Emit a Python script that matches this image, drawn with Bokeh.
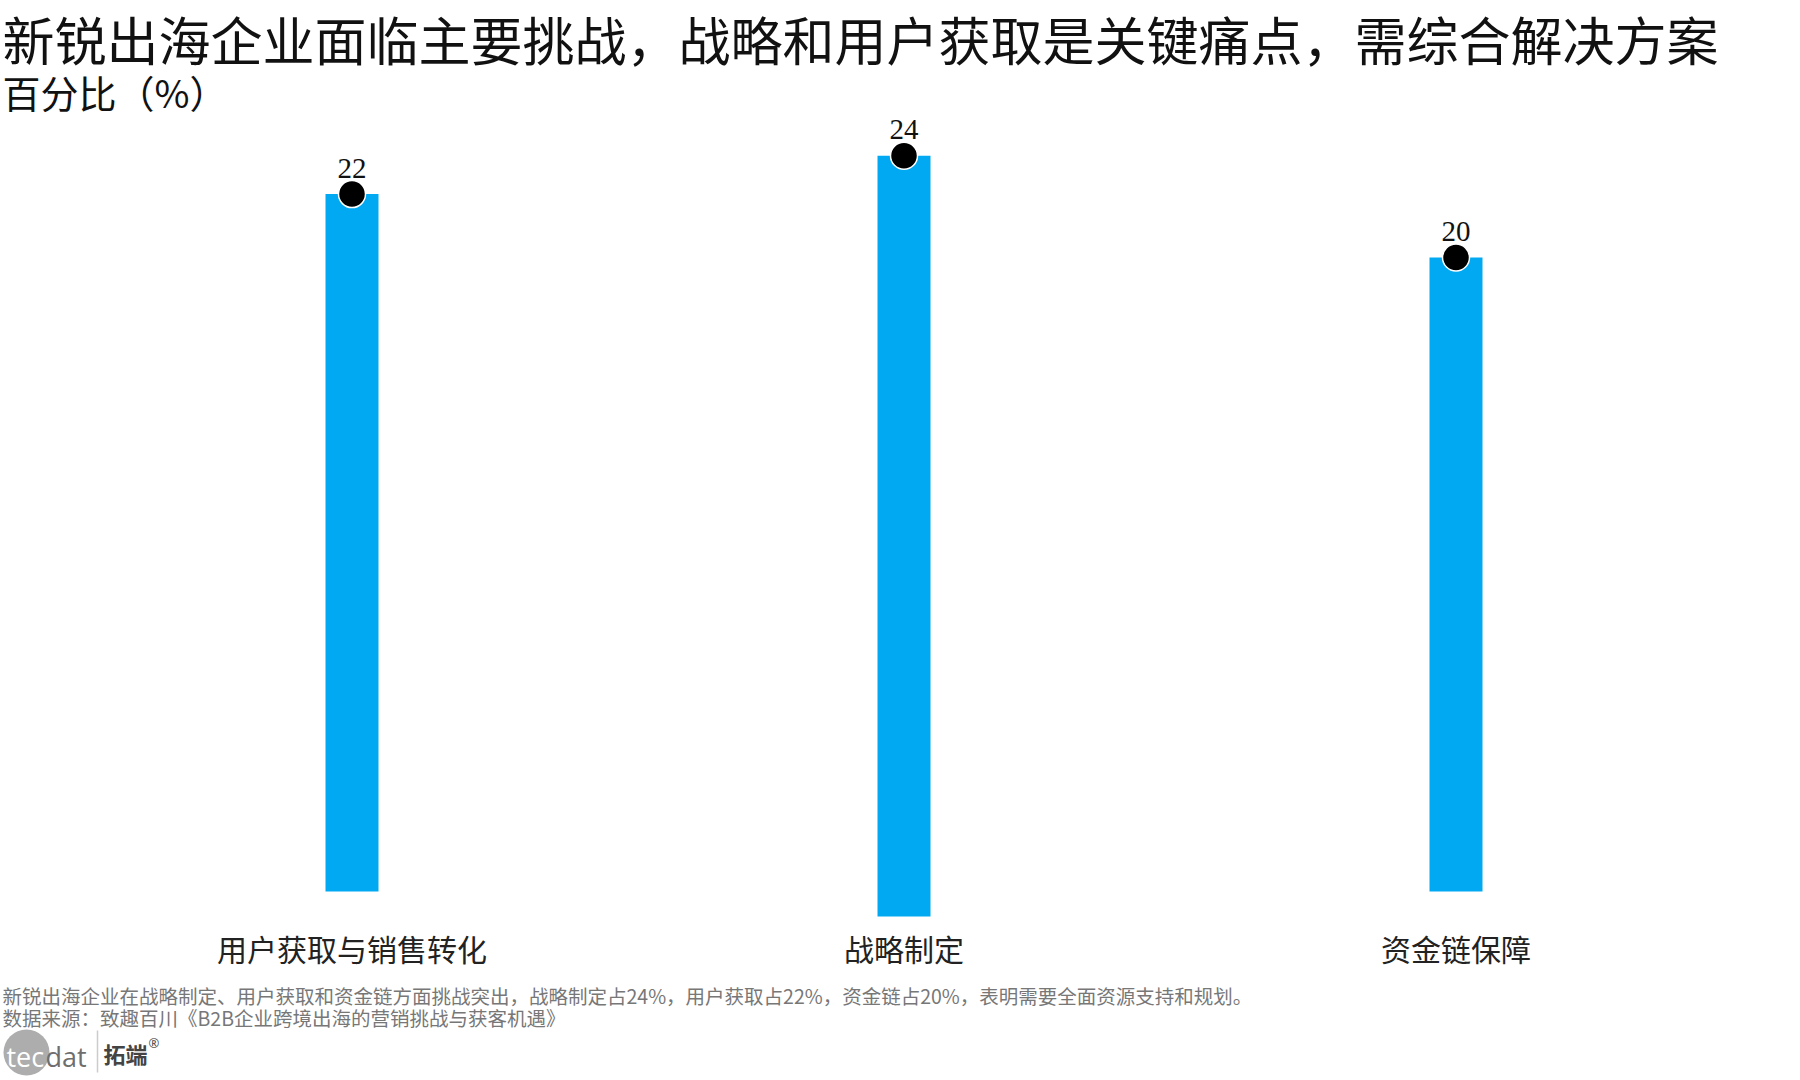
from bokeh.plotting import figure
from bokeh.models import Range1d, ColumnDataSource
from bokeh.core.properties import value
from bokeh.embed import file_html
from bokeh.resources import INLINE

# ---------------- data ----------------
TITLE = "新锐出海企业面临主要挑战，战略和用户获取是关键痛点，需综合解决方案"
SUBTITLE = "百分比（%）"
CATEGORIES = ["用户获取与销售转化", "战略制定", "资金链保障"]
VALUES = [22, 24, 20]
VALUE_LABELS = ["22", "24", "20"]
NOTE = "新锐出海企业在战略制定、用户获取和资金链方面挑战突出，战略制定占24%，用户获取占22%，资金链占20%，表明需要全面资源支持和规划。"
SOURCE = "数据来源：致趣百川《B2B企业跨境出海的营销挑战与获客机遇》"

# ---------------- style ----------------
W, H = 1792, 1076
PX = 31.7                 # pixels per percentage point
BASE_PX = 891             # canvas y of the zero line
XPX = 552                 # pixels per category slot
X0_PX = 351.5             # canvas x of first category centre
BAR_DROP_PX = [0, 25, 0]  # visual downward shift of each bar
BAR_COLOR = "#00A9F1"
BAR_W = 0.096
CJK = "Noto Sans CJK SC"

Y1 = BASE_PX / PX
Y0 = Y1 - H / PX
XS = -X0_PX / XPX
XE = XS + W / XPX
POS = list(range(len(CATEGORIES)))  # slot index of each category

p = figure(width=W, height=H,
           x_range=Range1d(XS, XE), y_range=Range1d(Y0, Y1),
           x_axis_type=None, y_axis_type=None,
           output_backend="svg", toolbar_location=None,
           min_border=0, outline_line_color=None)
p.background_fill_color = "white"
p.border_fill_color = "white"

extra = {"px": Range1d(H, 0)}
names = []
for i, d in enumerate(BAR_DROP_PX):
    if d:
        nm = f"drop{i}"
        extra[nm] = Range1d(Y0 + d / PX, Y1 + d / PX)
    else:
        nm = "default"
    names.append(nm)
p.extra_x_ranges = {"px": Range1d(0, W)}
p.extra_y_ranges = extra

for i, nm in enumerate(names):
    src = ColumnDataSource(dict(x=[POS[i]], top=[VALUES[i]],
                                lab=[VALUE_LABELS[i]],
                                ly=[VALUES[i] + 26 / PX]))
    p.vbar(x="x", top="top", bottom=0, width=BAR_W, source=src,
           fill_color=BAR_COLOR, line_color=None, y_range_name=nm)
    p.scatter(x="x", y="top", size=27, source=src, fill_color="black",
              line_color="white", line_width=1.5, y_range_name=nm)
    p.text(x="x", y="ly", text="lab", source=src, y_range_name=nm,
           text_align="center", text_baseline="middle",
           text_font=value("Liberation Serif"), text_font_size=value("29px"),
           text_color="#111111")

# category labels
p.text(x=POS, y=[-56 / PX] * len(CATEGORIES), text=CATEGORIES,
       text_align="center", text_baseline="middle",
       text_font=value(CJK), text_font_size=value("30px"), text_color="#222222")

def ptext(x, y, t, size, color, font=CJK, style="normal", baseline="middle", align="left"):
    p.text(x=[x], y=[y], text=[t], x_range_name="px", y_range_name="px",
           text_align=align, text_baseline=baseline,
           text_font=value(font), text_font_size=value(size),
           text_font_style=style, text_color=color)

ptext(2, 38, TITLE, "52px", "#111111")
ptext(2, 91, SUBTITLE, "38px", "#111111")
ptext(2, 995, NOTE, "19.5px", "#777777")
ptext(2, 1017, SOURCE, "19.5px", "#777777")

# logo
p.scatter(x=[26], y=[1052], size=46, x_range_name="px", y_range_name="px",
          fill_color="#adadad", line_color=None)
ptext(6, 1056, "tec", "27px", "white", font="Open Sans", baseline="alphabetic")
ptext(45, 1056, "dat", "27px", "#6e6e6e", font="Open Sans", baseline="alphabetic")
p.segment(x0=[97], y0=[1030], x1=[97], y1=[1072], x_range_name="px", y_range_name="px",
          line_color="#cccccc", line_width=1.5)
ptext(103, 1052, "拓端", "22px", "#444444", style="bold")
ptext(148, 1042, "®", "13px", "#444444", font="Open Sans")

open("out.html", "w").write(file_html(p, INLINE))
